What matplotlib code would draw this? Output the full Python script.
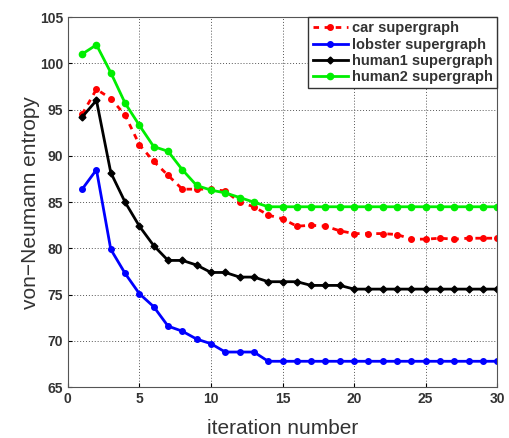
import matplotlib
matplotlib.use("Agg")
import matplotlib.pyplot as plt

iterations = list(range(1, 31))

car = [94.5, 97.2, 96.2, 94.4, 91.2, 89.4, 87.9, 86.4, 86.4, 86.4,
       86.2, 85.0, 84.5, 83.6, 83.2, 82.4, 82.5, 82.4, 81.9, 81.6,
       81.6, 81.6, 81.5, 81.0, 81.0, 81.1, 81.0, 81.1, 81.1, 81.1]
lobster = [86.4, 88.5, 79.9, 77.3, 75.1, 73.7, 71.6, 71.05, 70.2, 69.7,
           68.8, 68.8, 68.8, 67.8, 67.8, 67.8, 67.8, 67.8, 67.8, 67.8,
           67.8, 67.8, 67.8, 67.8, 67.8, 67.8, 67.8, 67.8, 67.8, 67.8]
human1 = [94.2, 96.0, 88.2, 85.0, 82.4, 80.3, 78.7, 78.7, 78.2, 77.4,
          77.4, 76.9, 76.9, 76.4, 76.4, 76.4, 76.0, 76.0, 76.0, 75.6,
          75.6, 75.6, 75.6, 75.6, 75.6, 75.6, 75.6, 75.6, 75.6, 75.6]
human2 = [101.0, 102.0, 99.0, 95.7, 93.3, 91.0, 90.5, 88.5, 86.8, 86.3,
          86.0, 85.5, 85.0, 84.5, 84.5, 84.5, 84.5, 84.5, 84.5, 84.5,
          84.5, 84.5, 84.5, 84.5, 84.5, 84.5, 84.5, 84.5, 84.5, 84.5]

xticks = [0, 5, 10, 15, 20, 25, 30]
yticks = [65, 70, 75, 80, 85, 90, 95, 100, 105]

plt.rcParams["font.family"] = ["Liberation Sans", "DejaVu Sans"]

fig = plt.figure(figsize=(5.10, 4.38), dpi=100)
ax = fig.add_axes([0.133, 0.116, 0.842, 0.845])

ax.plot(iterations, car, color="red", linestyle=(0, (2, 2)), linewidth=2,
        marker="o", markersize=4, label="car supergraph")
ax.plot(iterations, lobster, color="blue", linewidth=2,
        marker="o", markersize=4, label="lobster supergraph")
ax.plot(iterations, human1, color="black", linewidth=2,
        marker="D", markersize=3.5, label="human1 supergraph")
ax.plot(iterations, human2, color="#00ee00", linewidth=2,
        marker="o", markersize=4.5, label="human2 supergraph")

ax.set_xlim(0, 30)
ax.set_ylim(65, 105)
ax.set_xticks(xticks)
ax.set_yticks(yticks)
ax.tick_params(labelsize=10, direction="in", length=3)
for lbl in ax.get_xticklabels() + ax.get_yticklabels():
    lbl.set_fontweight("bold")
    lbl.set_color("#333333")
ax.grid(True, color="#555555", linestyle=(0, (1, 2)), linewidth=0.7)
for sp in ax.spines.values():
    sp.set_color("#555555")

ax.set_xlabel("iteration number", fontsize=15, color="#333333", labelpad=9)
ax.set_ylabel("von\u2212Neumann entropy", fontsize=15, color="#333333", labelpad=0)

leg = ax.legend(loc="upper right", fancybox=False, framealpha=1,
                edgecolor="#333333", borderaxespad=0, handlelength=2.4,
                handletextpad=0.3, labelspacing=0.15, borderpad=0.3,
                prop={"weight": "bold", "size": 10.5})
for t in leg.get_texts():
    t.set_color("#333333")

fig.savefig("out.png", dpi=100)
